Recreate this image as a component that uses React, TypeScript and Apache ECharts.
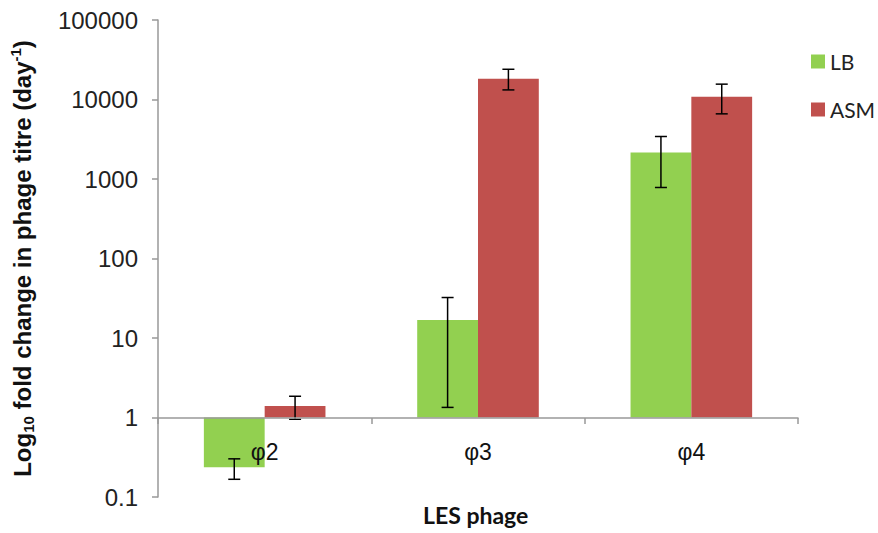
import React, { useEffect, useRef } from "react";
import * as echarts from "echarts";

const categories = ["φ2", "φ3", "φ4"];
const seriesNames = ["LB", "ASM"];
const lbValues = [0.237, 16.9, 2150];
const asmValues = [1.4, 18200, 10800];
const lbErrLow = [0.167, 1.34, 782];
const lbErrHigh = [0.302, 32.3, 3425];
const asmErrLow = [0.95, 13200, 6600];
const asmErrHigh = [1.85, 24000, 15600];
const yTickLabels = ["0.1", "1", "10", "100", "1000", "10000", "100000"];

const colors = ["#92D050", "#C0504D"];

export default function App() {
  const ref = useRef<HTMLDivElement>(null);
  useEffect(() => {
    if (!ref.current) return;
    const chart = echarts.init(ref.current, undefined, { renderer: "svg" });
    const barFrac = 0.285;
    const errSeries = (name: string, lo: number[], hi: number[], off: number) => ({
      type: "custom",
      name: name + "_err",
      z: 5,
      silent: true,
      data: lo.map((l, i) => [i, l, hi[i]]),
      renderItem: (params: any, api: any) => {
        const i = api.value(0);
        const pLo = api.coord([i, api.value(1)]);
        const pHi = api.coord([i, api.value(2)]);
        const cw = api.size([1, 1])[0];
        const cx = pLo[0] + off * cw * barFrac;
        const cap = 6;
        const st = { stroke: "#000", lineWidth: 1.5 };
        return {
          type: "group",
          children: [
            { type: "line", shape: { x1: cx, y1: pLo[1], x2: cx, y2: pHi[1] }, style: st },
            { type: "line", shape: { x1: cx - cap, y1: pLo[1], x2: cx + cap, y2: pLo[1] }, style: st },
            { type: "line", shape: { x1: cx - cap, y1: pHi[1], x2: cx + cap, y2: pHi[1] }, style: st },
          ],
        };
      },
    });
    chart.setOption({
      animation: false,
      grid: { left: 156, right: 80, top: 20, bottom: 36, containLabel: false },
      legend: {
        data: seriesNames,
        orient: "vertical",
        left: 806,
        top: 46,
        itemWidth: 14,
        itemHeight: 14,
        itemGap: 27,
        icon: "rect",
        textStyle: { fontFamily: "Lato", fontSize: 21, color: "#222" },
      },
      xAxis: {
        type: "category",
        data: categories,
        position: "bottom",
        offset: -79,
        z: 10,
        axisLine: { show: true, lineStyle: { color: "#999", width: 1.5 } },
        axisTick: { show: true, inside: false, length: 6, lineStyle: { color: "#999", width: 1.5 } },
        axisLabel: { margin: 22, fontSize: 23, color: "#111", fontFamily: "Liberation Sans" },
        splitLine: { show: false },
      },
      yAxis: {
        type: "log",
        logBase: 10,
        min: 0.1,
        max: 100000,
        axisLine: { show: true, lineStyle: { color: "#999", width: 1.5 } },
        axisTick: { show: true, inside: false, length: 6, lineStyle: { color: "#999", width: 1.5 } },
        splitLine: { show: false },
        axisLabel: {
          margin: 20,
          fontSize: 24,
          color: "#222",
          fontFamily: "Liberation Sans",
          formatter: (v: number) => yTickLabels[Math.round(Math.log10(v)) + 1] ?? String(v),
        },
        name: "{m|Log}{s|10}{m| fold change in phage titre (day}{u|-1}{m|)}",
        nameLocation: "middle",
        nameRotate: 90,
        nameGap: 122,
        nameTextStyle: {
          rich: {
            m: { fontSize: 24, fontWeight: "bold", fontFamily: "Liberation Sans", color: "#111", lineHeight: 28, verticalAlign: "middle" },
            s: { fontSize: 15, fontWeight: "bold", fontFamily: "Liberation Sans", color: "#111", lineHeight: 28, verticalAlign: "bottom", padding: [9, 0, 0, 0] },
            u: { fontSize: 15, fontWeight: "bold", fontFamily: "Liberation Sans", color: "#111", lineHeight: 28, verticalAlign: "top", padding: [0, 0, 9, 0] },
          },
        },
      },
      graphic: [
        {
          type: "text",
          left: 423,
          top: 503,
          style: { text: "LES phage", fontSize: 23, fontWeight: "bold", fontFamily: "Lato", fill: "#111" },
        },
      ],
      series: [
        {
          type: "bar",
          name: seriesNames[0],
          data: lbValues,
          barWidth: "28.5%",
          barGap: "0%",
          itemStyle: { color: colors[0] },
        },
        {
          type: "bar",
          name: seriesNames[1],
          data: asmValues,
          barWidth: "28.5%",
          barGap: "0%",
          itemStyle: { color: colors[1] },
        },
        errSeries("LB", lbErrLow, lbErrHigh, -0.5),
        errSeries("ASM", asmErrLow, asmErrHigh, 0.5),
      ],
    });
    return () => chart.dispose();
  }, []);
  return <div ref={ref} style={{ position: "absolute", left: 0, top: 0, width: 878, height: 533 }} />;
}
